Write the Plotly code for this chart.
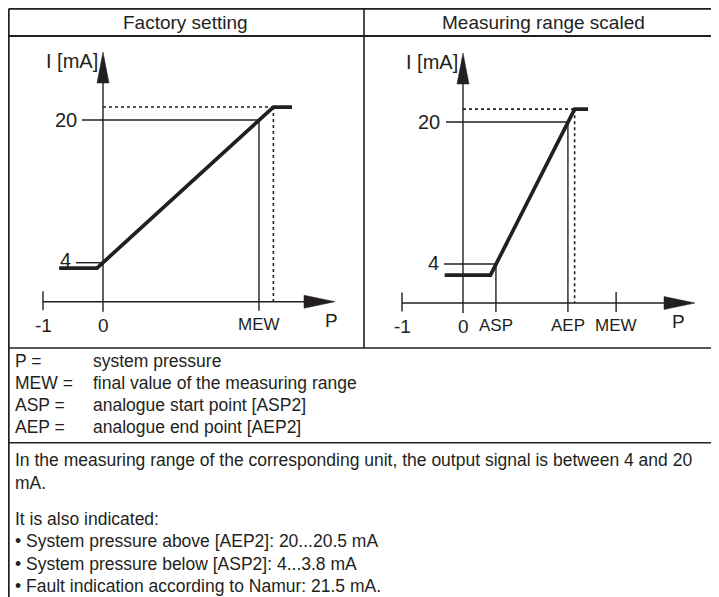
import plotly.graph_objects as go

# Page is photographed at 719x597; the plot div sits at the page's default 8px body margin.
PAGE_W, PAGE_H = 719, 597
OFF = 8
W, H = PAGE_W - OFF, PAGE_H - OFF
INK = "#231f20"
FONT = "Liberation Sans, Arial, sans-serif"

# ---------------- data ----------------
panel_titles = ["Factory setting", "Measuring range scaled"]
i_tick_vals = [4, 20]
i_tick_text = ["4", "20"]
i_axis_title = "I [mA]"
p_axis_title = "P"

# Factory setting panel (P in units of the -1..0 step, I in mA as drawn)
fs_p_vals = [-1, 0, 2.6]
fs_p_text = ["-1", "0", "MEW"]
fs_curve_p = [-0.73, -0.10, 2.84, 3.15]
fs_curve_i = [3.4, 3.4, 21.45, 21.45]

# Measuring range scaled panel
ms_p_vals = [-1, 0, 0.54, 1.72, 2.51]
ms_p_text = ["-1", "0", "ASP", "AEP", "MEW"]
ms_curve_p = [-0.30, 0.45, 1.83, 2.05]
ms_curve_i = [2.75, 2.75, 21.45, 21.45]

legend_keys = ["P =", "MEW =", "ASP =", "AEP ="]
legend_vals = ["system pressure", "final value of the measuring range",
               "analogue start point [ASP2]", "analogue end point [AEP2]"]
note_lines = [
    "In the measuring range of the corresponding unit, the output signal is between 4 and 20",
    "mA.",
    "It is also indicated:",
    "\u2022 System pressure above [AEP2]: 20...20.5 mA",
    "\u2022 System pressure below [ASP2]: 4...3.8 mA",
    "\u2022 Fault indication according to Namur: 21.5 mA.",
]

# ---------------- layout geometry (page pixels) ----------------
P1 = dict(xa="x", ya="y", x0=103, sx=60, y4=262.7, sy=8.92, axis_px=301.7, ytip=52, xtip=335, pshift=-4)
P2 = dict(xa="x2", ya="y2", x0=463, sx=61, y4=264, sy=8.875, axis_px=303, ytip=53, xtip=695, pshift=-17)
THIN = 1.4

shapes = []
annotations = []


def i_of_px(cfg, py):
    return 4 - (py - cfg["y4"]) / cfg["sy"]


def line(cfg, x0, y0, x1, y1, width=THIN, dash="solid"):
    shapes.append(dict(type="line", xref=cfg["xa"], yref=cfg["ya"], x0=x0, y0=y0, x1=x1, y1=y1,
                       line=dict(color=INK, width=width, dash=dash)))


def tri(cfg, pts):
    path = "M " + " L ".join(f"{x},{y}" for x, y in pts) + " Z"
    shapes.append(dict(type="path", xref=cfg["xa"], yref=cfg["ya"], path=path,
                       fillcolor=INK, line=dict(color=INK, width=0.5)))


def ann(cfg, x, y, text, size, xanchor="center", yanchor="middle", xshift=0, yshift=0):
    annotations.append(dict(xref=cfg["xa"], yref=cfg["ya"], x=x, y=y, text=text, showarrow=False,
                            xanchor=xanchor, yanchor=yanchor, xshift=xshift, yshift=yshift,
                            font=dict(family=FONT, size=size, color=INK)))


def axes(cfg, p_vals, p_text):
    dp = 1.0 / cfg["sx"]
    di = 1.0 / cfg["sy"]
    ia = i_of_px(cfg, cfg["axis_px"])
    p_tip = (cfg["xtip"] - cfg["x0"]) / cfg["sx"]
    i_tip = i_of_px(cfg, cfg["ytip"])
    # P axis with arrow
    line(cfg, p_vals[0], ia, p_tip - 30 * dp, ia)
    tri(cfg, [(p_tip, ia), (p_tip - 31 * dp, ia + 6.5 * di), (p_tip - 31 * dp, ia - 6.5 * di)])
    # I axis with arrow
    line(cfg, 0, ia - 10 * di, 0, i_tip - 30 * di)
    tri(cfg, [(0, i_tip), (-6 * dp, i_tip - 31 * di), (6 * dp, i_tip - 31 * di)])
    # -1 tick
    line(cfg, p_vals[0], ia + 10.5 * di, p_vals[0], ia - 8.5 * di)
    # labels
    for v, t in zip(p_vals, p_text):
        size = 19 if t.lstrip("-").isdigit() else 17
        ann(cfg, v, ia, t, size, yanchor="top", yshift=-11)
    ann(cfg, p_tip, ia, p_axis_title, 19, yanchor="top", yshift=-6, xshift=cfg["pshift"])
    ann(cfg, 0, i_tip, i_axis_title, 20, xanchor="right", yanchor="top", xshift=-3, yshift=4)
    return ia, dp, di


# ---- panel 1: factory setting ----
ia, dp, di = axes(P1, fs_p_vals, fs_p_text)
mew = fs_p_vals[2]
line(P1, -21 * dp, i_tick_vals[1], mew, i_tick_vals[1])
line(P1, mew, i_tick_vals[1], mew, ia - 9 * di)
line(P1, -27 * dp, i_tick_vals[0], 0, i_tick_vals[0])
line(P1, 0, fs_curve_i[2], fs_curve_p[2], fs_curve_i[2], width=1.6, dash="dot")
line(P1, fs_curve_p[2], fs_curve_i[2], fs_curve_p[2], ia, width=1.6, dash="dot")
ann(P1, -21 * dp, i_tick_vals[1], i_tick_text[1], 20, xanchor="right", xshift=-3)
ann(P1, -27 * dp, i_tick_vals[0], i_tick_text[0], 20, xanchor="right", xshift=-3, yshift=3)

# ---- panel 2: measuring range scaled ----
ia2, dp2, di2 = axes(P2, ms_p_vals, ms_p_text)
asp, aep, mew2 = ms_p_vals[2], ms_p_vals[3], ms_p_vals[4]
line(P2, -17 * dp2, i_tick_vals[1], aep, i_tick_vals[1])
line(P2, aep, i_tick_vals[1], aep, ia2 - 9 * di2)
line(P2, -19 * dp2, i_tick_vals[0], asp, i_tick_vals[0])
line(P2, asp, i_tick_vals[0], asp, ia2 - 9 * di2)
line(P2, mew2, ia2 + 11 * di2, mew2, ia2 - 9 * di2)
line(P2, 0, ms_curve_i[2], ms_curve_p[2], ms_curve_i[2], width=1.6, dash="dot")
line(P2, ms_curve_p[2], ms_curve_i[2], ms_curve_p[2], ia2, width=1.6, dash="dot")
ann(P2, -17 * dp2, i_tick_vals[1], i_tick_text[1], 20, xanchor="right", xshift=-4)
ann(P2, -19 * dp2, i_tick_vals[0], i_tick_text[0], 20, xanchor="right", xshift=-3, yshift=1)

fig = go.Figure()
fig.add_trace(go.Scatter(x=fs_curve_p, y=fs_curve_i, mode="lines", xaxis="x", yaxis="y",
                         line=dict(color=INK, width=3.7), hoverinfo="skip", showlegend=False,
                         cliponaxis=False))
fig.add_trace(go.Scatter(x=ms_curve_p, y=ms_curve_i, mode="lines", xaxis="x2", yaxis="y2",
                         line=dict(color=INK, width=3.7), hoverinfo="skip", showlegend=False,
                         cliponaxis=False))


# ---- table frame (paper coordinates, given in page pixels) ----
def fx(px):
    return (px - OFF) / W


def fy(py):
    return 1 - (py - OFF) / H


def pline(x0, y0, x1, y1, width=1.5):
    shapes.append(dict(type="line", xref="paper", yref="paper",
                       x0=fx(x0), y0=fy(y0), x1=fx(x1), y1=fy(y1),
                       line=dict(color=INK, width=width)))


def ptext(x, y, text, size, xanchor="left"):
    annotations.append(dict(xref="paper", yref="paper", x=fx(x), y=fy(y), text=text, showarrow=False,
                            xanchor=xanchor, yanchor="middle",
                            font=dict(family=FONT, size=size, color=INK)))


pline(8.8, 8.8, PAGE_W, 8.8, 1.8)      # top border (page margin hides the first px)
pline(8.8, 36, PAGE_W, 36, 2.2)        # header bottom
pline(8.8, 348, PAGE_W, 348, 1.5)      # chart row bottom
pline(8.8, 442.7, PAGE_W, 442.7, 1.5)  # legend bottom
pline(8.8, 8.8, 8.8, PAGE_H + 2, 1.8)  # left border
pline(364, 8.8, 364, 348, 1.6)         # panel divider

ptext(185, 22.7, panel_titles[0], 19, "center")
ptext(543, 22.7, panel_titles[1], 19, "center")

legend_y = [361, 383, 405, 427]
for y, k, v in zip(legend_y, legend_keys, legend_vals):
    ptext(13, y, k, 17.5)
    ptext(91, y, v, 17.5)

note_y = [460, 482.5, 519, 541, 563.5, 586]
for y, t in zip(note_y, note_lines):
    ptext(13, y, t, 17.5)


def rng_x(cfg):
    return [(OFF - cfg["x0"]) / cfg["sx"], (PAGE_W - cfg["x0"]) / cfg["sx"]]


def rng_y(cfg):
    return [4 - (PAGE_H - cfg["y4"]) / cfg["sy"], 4 + (cfg["y4"] - OFF) / cfg["sy"]]


hidden = dict(visible=False, domain=[0, 1], fixedrange=True)
fig.update_layout(
    width=W, height=H, margin=dict(l=0, r=0, t=0, b=0, pad=0),
    paper_bgcolor="white", plot_bgcolor="rgba(0,0,0,0)", showlegend=False,
    xaxis=dict(range=rng_x(P1), anchor="y", **hidden),
    yaxis=dict(range=rng_y(P1), anchor="x", **hidden),
    xaxis2=dict(range=rng_x(P2), anchor="y2", **hidden),
    yaxis2=dict(range=rng_y(P2), anchor="x2", **hidden),
    shapes=shapes, annotations=annotations,
)
fig.write_html("out.html")
